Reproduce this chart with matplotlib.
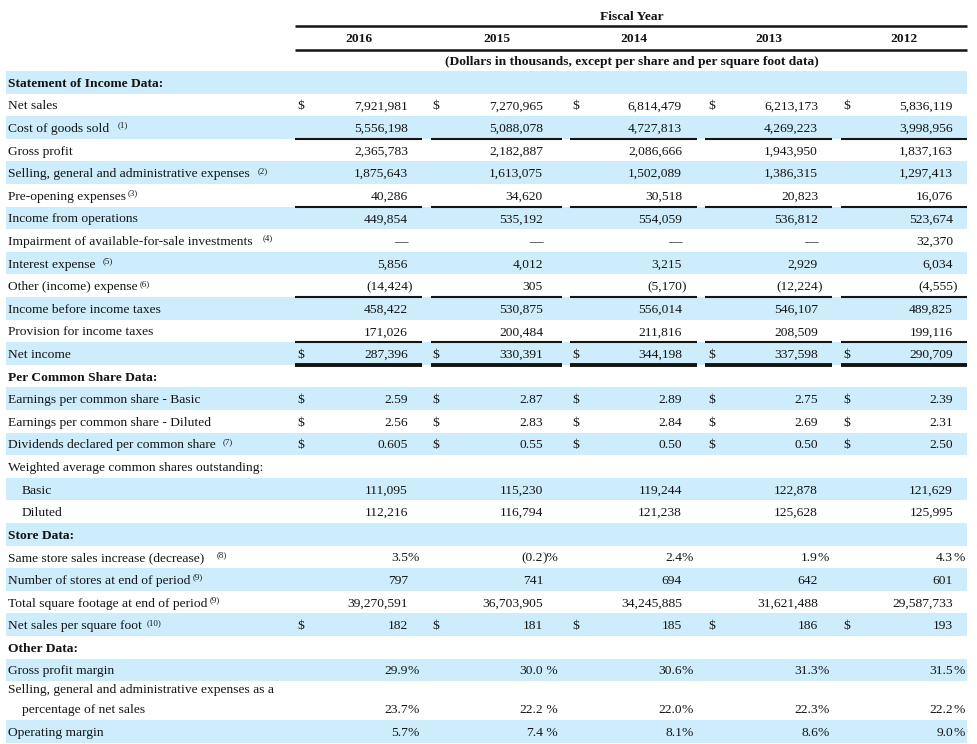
import matplotlib
matplotlib.use('Agg')
import matplotlib.pyplot as plt
from matplotlib.patches import Rectangle

# ---------------- data ----------------
years = ['2016', '2015', '2014', '2013', '2012']
net_sales = [7921981, 7270965, 6814479, 6213173, 5836119]
cost_of_goods_sold = [5556198, 5088078, 4727813, 4269223, 3998956]
gross_profit = [2365783, 2182887, 2086666, 1943950, 1837163]
sga_expenses = [1875643, 1613075, 1502089, 1386315, 1297413]
pre_opening = [40286, 34620, 30518, 20823, 16076]
income_from_operations = [449854, 535192, 554059, 536812, 523674]
impairment = [None, None, None, None, 32370]
interest_expense = [5856, 4012, 3215, 2929, 6034]
other_income_expense = [-14424, 305, -5170, -12224, -4555]
income_before_taxes = [458422, 530875, 556014, 546107, 489825]
provision_taxes = [171026, 200484, 211816, 208509, 199116]
net_income = [287396, 330391, 344198, 337598, 290709]
eps_basic = [2.59, 2.87, 2.89, 2.75, 2.39]
eps_diluted = [2.56, 2.83, 2.84, 2.69, 2.31]
dividends = [0.605, 0.55, 0.50, 0.50, 2.50]
shares_basic = [111095, 115230, 119244, 122878, 121629]
shares_diluted = [112216, 116794, 121238, 125628, 125995]
same_store_sales = [3.5, -0.2, 2.4, 1.9, 4.3]
stores = [797, 741, 694, 642, 601]
square_footage = [39270591, 36703905, 34245885, 31621488, 29587733]
sales_per_sqft = [182, 181, 185, 186, 193]
gross_margin = [29.9, 30.0, 30.6, 31.3, 31.5]
sga_pct = [23.7, 22.2, 22.0, 22.3, 22.2]
operating_margin = [5.7, 7.4, 8.1, 8.6, 9.0]

header_title = 'Fiscal Year'
header_units = '(Dollars in thousands, except per share and per square foot data)'

rows = [
    dict(label='Statement of Income Data:', kind='section'),
    dict(label='Net sales', vals=net_sales, kind='int', dollar=True),
    dict(label='Cost of goods sold', vals=cost_of_goods_sold, kind='int', note=('(1)', 8), rule='single'),
    dict(label='Gross profit', vals=gross_profit, kind='int'),
    dict(label='Selling, general and administrative expenses', vals=sga_expenses, kind='int', note=('(2)', 8)),
    dict(label='Pre-opening expenses', vals=pre_opening, kind='int', note=('(3)', 2), rule='single'),
    dict(label='Income from operations', vals=income_from_operations, kind='int'),
    dict(label='Impairment of available-for-sale investments', vals=impairment, kind='int', note=('(4)', 10)),
    dict(label='Interest expense', vals=interest_expense, kind='int', note=('(5)', 7)),
    dict(label='Other (income) expense', vals=other_income_expense, kind='int', note=('(6)', 2), rule='single'),
    dict(label='Income before income taxes', vals=income_before_taxes, kind='int'),
    dict(label='Provision for income taxes', vals=provision_taxes, kind='int', rule='single'),
    dict(label='Net income', vals=net_income, kind='int', dollar=True, rule='double'),
    dict(label='Per Common Share Data:', kind='section'),
    dict(label='Earnings per common share - Basic', vals=eps_basic, kind='eps', dollar=True),
    dict(label='Earnings per common share - Diluted', vals=eps_diluted, kind='eps', dollar=True),
    dict(label='Dividends declared per common share', vals=dividends, kind='eps', dollar=True, note=('(7)', 7)),
    dict(label='Weighted average common shares outstanding:', kind='text'),
    dict(label='Basic', vals=shares_basic, kind='int', indent=True),
    dict(label='Diluted', vals=shares_diluted, kind='int', indent=True),
    dict(label='Store Data:', kind='section'),
    dict(label='Same store sales increase (decrease)', vals=same_store_sales, kind='pct', note=('(8)', 12)),
    dict(label='Number of stores at end of period', vals=stores, kind='int', note=('(9)', 2)),
    dict(label='Total square footage at end of period', vals=square_footage, kind='int', note=('(9)', 2)),
    dict(label='Net sales per square foot', vals=sales_per_sqft, kind='int', dollar=True, note=('(10)', 5)),
    dict(label='Other Data:', kind='section'),
    dict(label='Gross profit margin', vals=gross_margin, kind='pct', spaced=True),
    dict(label=['Selling, general and administrative expenses as a', 'percentage of net sales'],
         vals=sga_pct, kind='pct', spaced=True, tall=True),
    dict(label='Operating margin', vals=operating_margin, kind='pct', spaced=True),
]

# ---------------- layout ----------------
W, H = 977, 744
fig = plt.figure(figsize=(W / 100, H / 100), dpi=100)
ax = fig.add_axes([0, 0, 1, 1])
ax.set_xlim(0, W)
ax.set_ylim(H, 0)
ax.axis('off')
renderer = fig.canvas.get_renderer()

SERIF = ['Liberation Serif', 'DejaVu Serif']
FS = 9.7
INK = '#141414'
BAND = '#cdedfc'

col_left = [295, 431, 570, 705, 841]
col_right = [422, 562, 697, 832, 967]
num_right = [408, 543, 682, 818, 953]
dollar_x = [297, 432, 572, 708, 843]
label_x = 8
indent_x = 22
band_x0, band_x1 = 6, 967
row_h = 22.6
tall_h = 39.0
top = 71.0
BASE = 4.5   # baseline offset below row centre


def txt(x, y, s, **kw):
    kw.setdefault('fontsize', FS)
    kw.setdefault('family', SERIF)
    kw.setdefault('color', INK)
    kw.setdefault('va', 'baseline')
    return ax.text(x, y, s, **kw)


def fmt(v, kind, spaced, col):
    if v is None:
        return '\u2014', ''
    if kind == 'int':
        if v < 0:
            return '(' + f'{-v:,}', ')'
        return f'{v:,}', ''
    if kind == 'eps':
        s = f'{v:.3f}'
        if s.endswith('0'):
            s = s[:-1]
        return s, ''
    if kind == 'pct':
        if v < 0:
            return '(' + f'{-v:.1f}', ')%'
        return f'{v:.1f}', (' %' if (spaced and col == 1) else '%')
    return str(v), ''


# header
txt(632, 15 + BASE, header_title, ha='center', fontweight='bold')
ax.plot([295, 967], [26, 26], color=INK, lw=1.8, solid_capstyle='butt')
for i, y in enumerate(years):
    txt((col_left[i] + col_right[i]) / 2, 37 + BASE, y, ha='center', fontweight='bold')
ax.plot([295, 967], [50, 50], color=INK, lw=1.8, solid_capstyle='butt')
txt(632, 61 + BASE, header_units, ha='center', fontweight='bold')

# body
y0 = top
for i, r in enumerate(rows):
    h = tall_h if r.get('tall') else row_h
    y1 = y0 + h
    if i % 2 == 0:
        ax.add_patch(Rectangle((band_x0, y0), band_x1 - band_x0, h, facecolor=BAND,
                               edgecolor='none', zorder=0))
    yc = y1 - row_h / 2
    # label
    lx = indent_x if r.get('indent') else label_x
    if isinstance(r['label'], list):
        txt(lx, yc - 20 + BASE, r['label'][0])
        txt(indent_x, yc + BASE, r['label'][1])
    else:
        bold = r['kind'] == 'section'
        t = txt(lx, yc + BASE, r['label'], fontweight='bold' if bold else 'normal')
        if r.get('note'):
            note, gap = r['note']
            bb = t.get_window_extent(renderer)
            txt(bb.x1 + gap, yc + BASE - 4.5, note, fontsize=6.3)
    # values
    vals = r.get('vals')
    if vals is not None:
        for c, v in enumerate(vals):
            main, suf = fmt(v, r['kind'], r.get('spaced', False), c)
            txt(num_right[c], yc + BASE, main, ha='right')
            if suf:
                txt(num_right[c], yc + BASE, suf, ha='left')
            if r.get('dollar'):
                txt(dollar_x[c], yc + BASE, '$', ha='left')
    # rules
    rule = r.get('rule')
    if rule:
        lw = 1.5 if rule == 'single' else 2.8
        yy = y1 if rule == 'single' else y1 + 0.5
        for c in range(len(years)):
            ax.plot([col_left[c], col_right[c]], [yy, yy], color=INK, lw=lw,
                    solid_capstyle='butt', zorder=3)
    y0 = y1

fig.savefig('out.png', dpi=100, facecolor='white')
